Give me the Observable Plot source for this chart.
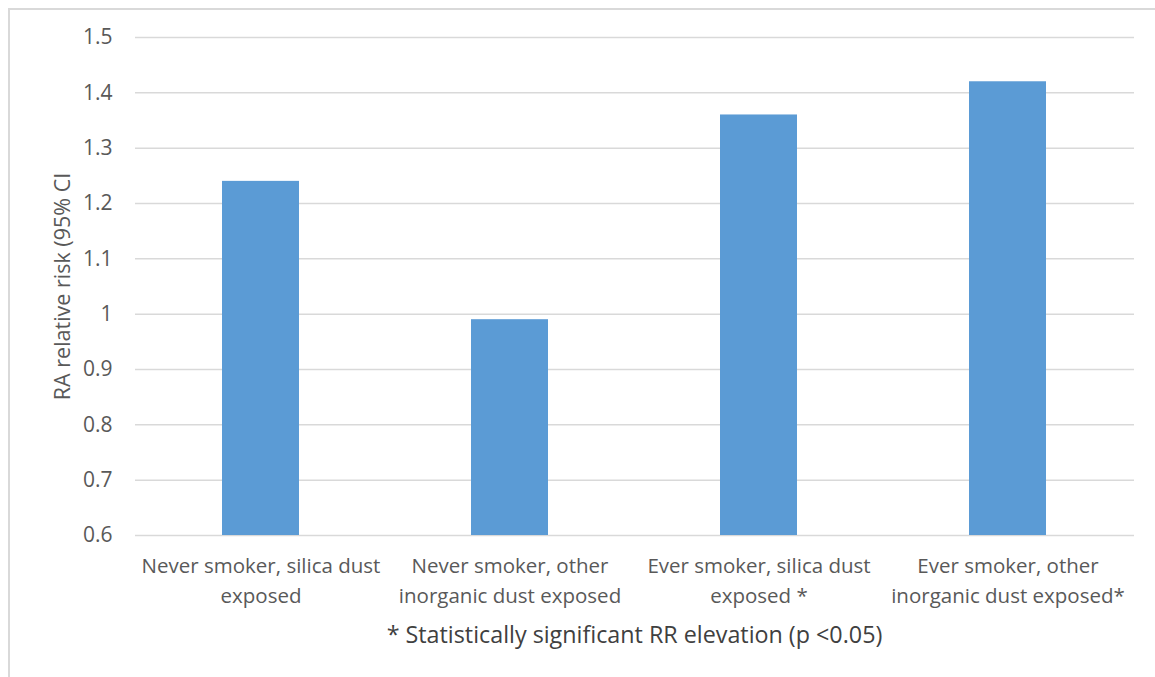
<!DOCTYPE html>
<html>
<head>
<meta charset="utf-8">
<script src="https://cdn.jsdelivr.net/npm/d3@7"></script>
<script src="https://cdn.jsdelivr.net/npm/@observablehq/plot@0.6"></script>
<style>
  html, body { margin: 0; padding: 0; background: #fff; }
  body { width: 1155px; height: 677px; position: relative; overflow: hidden; font-family: "Open Sans", sans-serif; }
  #frame { position: absolute; left: 8px; top: 8px; width: 1300px; height: 800px; border-left: 2px solid #d9d9d9; border-top: 2px solid #d9d9d9; box-sizing: border-box; }
  #chart { position: absolute; left: 0; top: 0; }
  #caption { position: absolute; left: 135px; width: 999px; top: 617px; text-align: center; font-size: 23.3px; color: #404040; line-height: 34px; white-space: nowrap; }
</style>
</head>
<body>
<div id="frame"></div>
<div id="chart"></div>
<div id="caption">* Statistically significant RR elevation (p &lt;0.05)</div>
<script>
const categories = [
  "Never smoker, silica dust\nexposed",
  "Never smoker, other\ninorganic dust exposed",
  "Ever smoker, silica dust\nexposed *",
  "Ever smoker, other\ninorganic dust exposed*"
];
const values = [1.24, 0.99, 1.36, 1.42];
const yTicks = [0.6, 0.7, 0.8, 0.9, 1.0, 1.1, 1.2, 1.3, 1.4, 1.5];
const yTickLabels = ["0.6", "0.7", "0.8", "0.9", "1", "1.1", "1.2", "1.3", "1.4", "1.5"];
const yLabel = "RA relative risk (95% CI";

const data = categories.map((c, i) => ({cat: c, value: values[i]}));
const baseline = yTicks[0];

const plot = Plot.plot({
  width: 1155,
  height: 677,
  marginLeft: 135,
  marginRight: 21,
  marginTop: 37,
  marginBottom: 142,
  style: { fontFamily: "'Open Sans', sans-serif", background: "transparent", overflow: "visible" },
  x: { domain: categories, paddingInner: 0.69, paddingOuter: 0.345, label: null },
  y: { domain: [yTicks[0], yTicks[yTicks.length - 1]], label: null },
  marks: [
    Plot.ruleY(yTicks, { stroke: "#d9d9d9", strokeWidth: 1.5 }),
    Plot.barY(data, { x: "cat", y1: baseline, y2: "value", fill: "#5b9bd5" }),
    Plot.axisY({
      ticks: yTicks,
      tickFormat: (d) => yTickLabels[yTicks.indexOf(d)],
      tickSize: 0,
      tickPadding: 23,
      fontSize: 21,
      fill: "#595959",
      label: null
    }),
    Plot.axisX({
      tickSize: 0,
      tickPadding: 16,
      fontSize: 20.5,
      fill: "#595959",
      lineHeight: 1.47,
      label: null
    }),
    Plot.text([yLabel], {
      frameAnchor: "left",
      textAnchor: "middle",
      dx: -72,
      rotate: -90,
      fontSize: 21.5,
      fill: "#595959",
      text: (d) => d
    })
  ]
});
document.getElementById("chart").appendChild(plot);
</script>
</body>
</html>
